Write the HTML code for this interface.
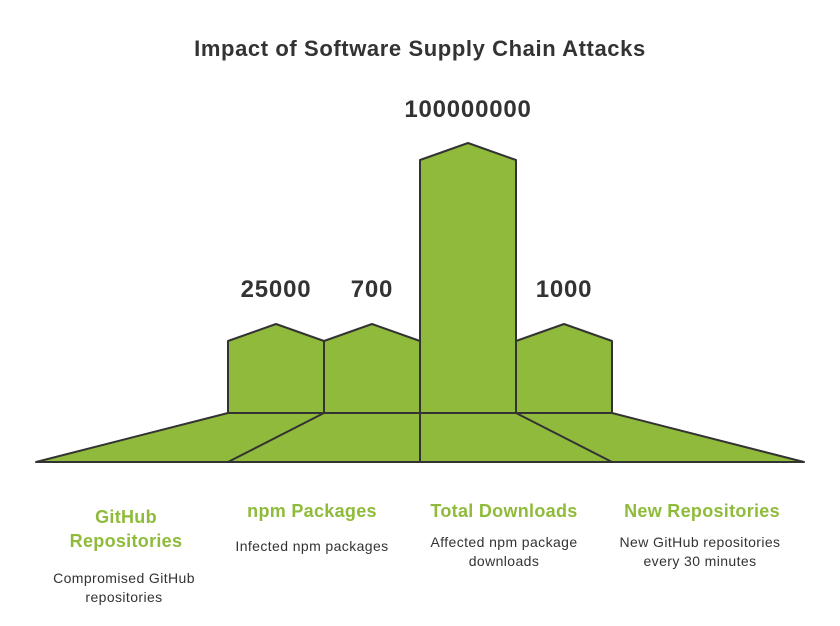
<!DOCTYPE html>
<html><head><meta charset="utf-8"><style>
html,body{margin:0;padding:0;background:#fff;}
svg{display:block;font-family:"Liberation Sans",Arial,sans-serif;}
.v{font-size:24px;font-weight:bold;fill:#333;text-anchor:middle;letter-spacing:0.8px;}
.g{font-size:18px;font-weight:bold;fill:#8fbb3a;text-anchor:middle;letter-spacing:0.3px;}
.d{font-size:14px;fill:#333;text-anchor:middle;letter-spacing:0.4px;}
</style></head><body>
<svg width="840" height="626" viewBox="0 0 840 626">
<text x="420" y="56" style="font-size:22px;font-weight:bold;fill:#333;text-anchor:middle;letter-spacing:0.6px">Impact of Software Supply Chain Attacks</text>
<g fill="#8fba3b" stroke="#333" stroke-width="2" stroke-linejoin="round">
<polygon points="228,413 612,413 804,462 36,462"/>
<polygon points="228,413 228,341 276,324 324,341 324,413"/>
<polygon points="324,413 324,341 372,324 420,341 420,413"/>
<polygon points="420,413 420,160 468,143 516,160 516,413"/>
<polygon points="516,413 516,341 564,324 612,341 612,413"/>
<line x1="324" y1="413" x2="228" y2="462"/>
<line x1="420" y1="413" x2="420" y2="462"/>
<line x1="516" y1="413" x2="612" y2="462"/>
</g>
<text class="v" x="276" y="297">25000</text>
<text class="v" x="372" y="297">700</text>
<text class="v" x="468" y="117">100000000</text>
<text class="v" x="564" y="297">1000</text>
<text class="g" x="126" y="523">GitHub</text>
<text class="g" x="126" y="547">Repositories</text>
<text class="d" x="124" y="583">Compromised GitHub</text>
<text class="d" x="124" y="602">repositories</text>
<text class="g" x="312" y="517">npm Packages</text>
<text class="d" x="312" y="551">Infected npm packages</text>
<text class="g" x="504" y="517">Total Downloads</text>
<text class="d" x="504" y="547">Affected npm package</text>
<text class="d" x="504" y="566">downloads</text>
<text class="g" x="702" y="517">New Repositories</text>
<text class="d" x="700" y="547">New GitHub repositories</text>
<text class="d" x="700" y="566">every 30 minutes</text>
</svg>
</body></html>
